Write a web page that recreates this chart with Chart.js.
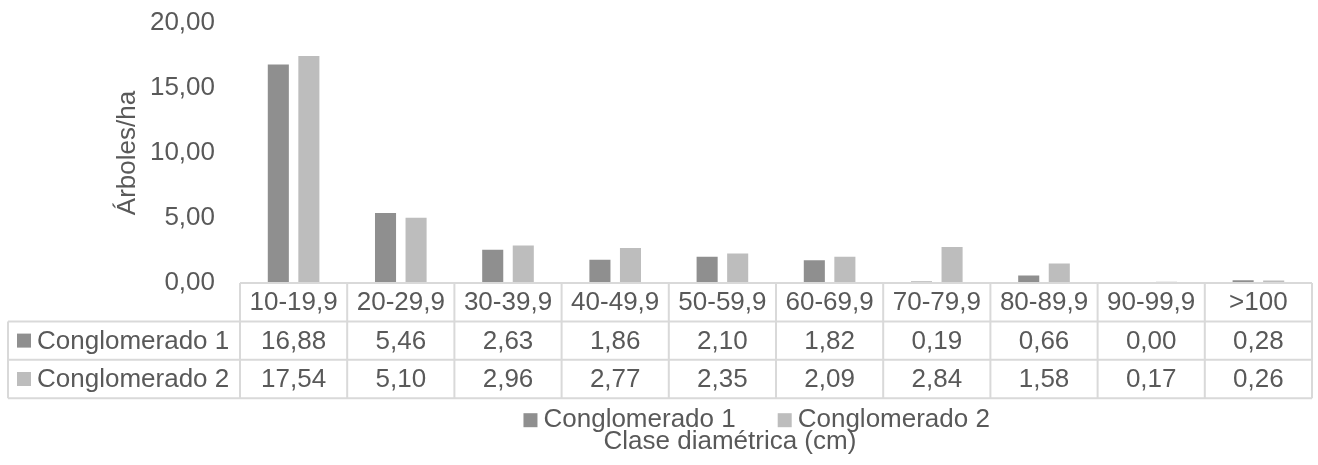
<!DOCTYPE html>
<html lang="es">
<head>
<meta charset="utf-8">
<title>Árboles/ha por clase diamétrica</title>
<script src="https://cdn.jsdelivr.net/npm/chart.js@4.4.1/dist/chart.umd.min.js"></script>
<style>
   html, body { margin: 0; padding: 0; background: #fff; }
   #wrap { width: 1318px; height: 465px; }
</style>
</head>
<body>
<div id="wrap"><canvas id="grafico"></canvas></div>
<script>
// Datos por clase diamétrica
const clases = ['10-19,9', '20-29,9', '30-39,9', '40-49,9', '50-59,9', '60-69,9', '70-79,9', '80-89,9', '90-99,9', '>100'];
const conglomerado1 = [16.88, 5.46, 2.63, 1.86, 2.10, 1.82, 0.19, 0.66, 0.00, 0.28];
const conglomerado2 = [17.54, 5.10, 2.96, 2.77, 2.35, 2.09, 2.84, 1.58, 0.17, 0.26];
const series = ['Conglomerado 1', 'Conglomerado 2'];
const ticksY = [0, 5, 10, 15, 20];
const tituloY = 'Árboles/ha';
const tituloX = 'Clase diamétrica (cm)';

const
   FUENTE = '"Liberation Sans", Arial, sans-serif',
   TAM = 26,
   TEXTO = '#595959',
   LINEA = '#d9d9d9',
   COLORES = ['#8f8f8f', '#bdbdbd'],
   FILA = 38.4,        // alto de cada fila de la tabla
   TABLA_IZQ = 8;      // borde izquierdo de la columna de nombres

const numero = v => v.toFixed(2).replace('.', ',');

// Tabla de datos bajo el eje X + leyenda + título del eje
const tablaDatos = {
   id: 'tablaDatos',
   afterDraw(chart) {
      const { ctx, chartArea: area, scales: { x } } = chart;
      const colW = x.width / clases.length;
      const top = area.bottom;
      const bottom = top + 3 * FILA;
      const valores = [conglomerado1, conglomerado2];

      ctx.save();
      ctx.strokeStyle = LINEA;
      ctx.lineWidth = 2;
      ctx.beginPath();
      // horizontales
      ctx.moveTo(area.left, top);
      ctx.lineTo(area.right, top);
      for (let r = 1; r <= 3; r++) {
         ctx.moveTo(TABLA_IZQ, top + r * FILA);
         ctx.lineTo(area.right, top + r * FILA);
      }
      // verticales
      for (let i = 0; i <= clases.length; i++) {
         const px = x.getPixelForValue(0) - colW / 2 + i * colW;
         ctx.moveTo(px, top);
         ctx.lineTo(px, bottom);
      }
      ctx.moveTo(TABLA_IZQ, top + FILA);
      ctx.lineTo(TABLA_IZQ, bottom);
      ctx.stroke();

      ctx.font = TAM + 'px ' + FUENTE;
      ctx.fillStyle = TEXTO;
      ctx.textBaseline = 'middle';
      ctx.textAlign = 'center';
      clases.forEach((c, i) => {
         const cx = x.getPixelForValue(i);
         ctx.fillText(c, cx, top + FILA / 2 + 1);
         valores.forEach((serie, s) => {
            ctx.fillText(numero(serie[i]), cx, top + FILA * (s + 1.5) + 1);
         });
      });

      // nombres de las series con su clave de color
      ctx.textAlign = 'left';
      series.forEach((nombre, s) => {
         const cy = top + FILA * (s + 1.5);
         ctx.fillStyle = COLORES[s];
         ctx.fillRect(TABLA_IZQ + 9, cy - 7, 14, 14);
         ctx.fillStyle = TEXTO;
         ctx.fillText(nombre, TABLA_IZQ + 29, cy + 1);
      });

      // leyenda
      const anchos = series.map(n => ctx.measureText(n).width);
      const total = anchos.reduce((a, w) => a + 14 + 6 + w, 0) + 42;
      let lx = area.left + (area.right - area.left) * 0.482 - total / 2;
      const ly = bottom + 22;
      series.forEach((nombre, s) => {
         ctx.fillStyle = COLORES[s];
         ctx.fillRect(lx, ly - 7, 14, 14);
         ctx.fillStyle = TEXTO;
         ctx.fillText(nombre, lx + 20, ly);
         lx += 20 + anchos[s] + 42;
      });

      // título del eje X
      ctx.textAlign = 'center';
      ctx.fillText(tituloX, area.left + (area.right - area.left) * 0.457, bottom + 44);
      ctx.restore();
   }
};

new Chart(document.getElementById('grafico'), {
   type: 'bar',
   data: {
      labels: clases,
      datasets: [
         {
            label: series[0],
            data: conglomerado1,
            backgroundColor: COLORES[0],
            borderColor: 'rgba(255, 255, 255, 0.3)',
            borderWidth: 1,
            categoryPercentage: 0.57,
            barPercentage: 0.755
         },
         {
            label: series[1],
            data: conglomerado2,
            backgroundColor: COLORES[1],
            borderColor: 'rgba(255, 255, 255, 0.4)',
            borderWidth: 1,
            categoryPercentage: 0.57,
            barPercentage: 0.755
         }
      ]
   },
   options: {
      responsive: true,
      maintainAspectRatio: false,
      animation: false,
      layout: { padding: { top: 23, right: 6, bottom: 0, left: 0 } },
      plugins: {
         legend: { display: false },
         tooltip: { enabled: false }
      },
      scales: {
         x: {
            grid: { display: false, drawTicks: false },
            border: { display: false },
            ticks: { display: false },
            afterFit(scale) { scale.height = 182; }
         },
         y: {
            min: ticksY[0],
            max: ticksY[ticksY.length - 1],
            grid: { display: false, drawTicks: false },
            border: { display: false },
            ticks: {
               stepSize: ticksY[1] - ticksY[0],
               padding: 25,
               color: TEXTO,
               font: { family: FUENTE, size: TAM },
               callback: v => numero(v)
            },
            title: {
               display: true,
               text: tituloY,
               color: TEXTO,
               font: { family: FUENTE, size: TAM },
               padding: { top: 112, bottom: 0 }
            },
            afterFit(scale) {
               // el padding de las etiquetas no debe empujar el área del gráfico
               scale.width = 240;
               scale.paddingTop = 0;
               scale.paddingBottom = 0;
            }
         }
      }
   },
   plugins: [tablaDatos]
});
</script>
</body>
</html>
